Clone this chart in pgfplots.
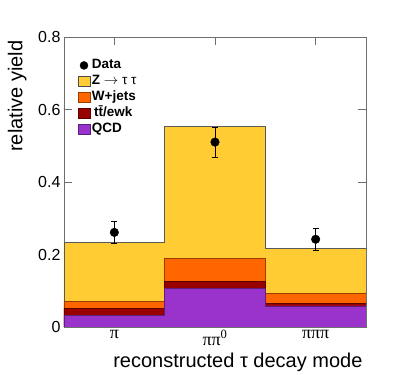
\documentclass[border=0pt]{standalone}
\usepackage{fontspec}
\setmainfont{Liberation Sans}
\newfontfamily\symfont{Liberation Serif}
\usepackage{pgfplots}
\pgfplotsset{compat=1.18}

\definecolor{zyel}{RGB}{255,204,51}
\definecolor{wora}{RGB}{255,102,0}
\definecolor{ttred}{RGB}{153,0,0}
\definecolor{qcdpur}{RGB}{153,51,204}
\definecolor{axgray}{RGB}{110,110,110}

\pgfplotsset{boxleg/.style={legend image code/.code={\draw[##1] (0pt,-5pt) rectangle (12pt,5pt);}}}

\begin{document}
\begin{tikzpicture}
\begin{axis}[
    name=ax,
    scale only axis,
    width=302pt, height=290pt,
    xmin=0.5, xmax=3.5, ymin=0, ymax=0.8,
    xtick={1,2,3},
    xticklabels={π, ππ\textsuperscript{0}, πππ},
    xticklabel style={font=\symfont\fontsize{18}{20}\selectfont},
    ytick={0,0.2,0.4,0.6,0.8},
    yticklabel style={font=\fontsize{16}{19}\selectfont},
    /pgf/number format/assume math mode=true,
    axis line style={axgray, line width=0.9pt},
    tick style={axgray, line width=0.9pt},
    major tick length=8pt,
    xlabel={reconstructed τ decay mode},
    ylabel={relative yield},
    label style={font=\fontsize{20}{24}\selectfont},
    xlabel style={at={(axis description cs:1,-0.138)}, anchor=base east},
    ylabel style={at={(axis description cs:-0.155,1)}, anchor=east},
    legend style={draw=none, fill=none, at={(axis description cs:0.045,0.93)}, anchor=north west,
        font=\bfseries\fontsize{13.5}{16}\selectfont, inner sep=0pt,
        nodes={text height=9.5pt, text depth=3pt, inner sep=1.7pt}},
    legend cell align=left,
]
\addlegendimage{legend image code/.code={\fill[black] (6pt,0pt) circle (4pt);}}
\addlegendentry{Data}
\addlegendimage{boxleg, fill=zyel, draw=black!70}
\addlegendentry{Z {\mdseries$\rightarrow$ τ τ}}
\addlegendimage{boxleg, fill=wora, draw=wora!60!black}
\addlegendentry{W+jets}
\addlegendimage{boxleg, fill=ttred, draw=ttred!60!black}
\addlegendentry{\,t\={t}/ewk}
\addlegendimage{boxleg, fill=qcdpur, draw=qcdpur!60!black}
\addlegendentry{QCD}

% stacked tops, drawn from the total down
\addplot[const plot, fill=zyel, draw=black!65, line width=0.8pt, forget plot]
    coordinates {(0.5,0.234) (1.5,0.553) (2.5,0.217) (3.5,0.217)} \closedcycle;
\addplot[const plot, fill=wora, draw=wora!60!black, line width=0.6pt, forget plot]
    coordinates {(0.5,0.071) (1.5,0.190) (2.5,0.093) (3.5,0.093)} \closedcycle;
\addplot[const plot, fill=ttred, draw=ttred!60!black, line width=0.6pt, forget plot]
    coordinates {(0.5,0.052) (1.5,0.125) (2.5,0.065) (3.5,0.065)} \closedcycle;
\addplot[const plot, fill=qcdpur, draw=qcdpur!60!black, line width=0.6pt, forget plot]
    coordinates {(0.5,0.031) (1.5,0.107) (2.5,0.058) (3.5,0.058)} \closedcycle;

% data
\addplot[only marks, mark=*, mark size=4.3pt, black, forget plot,
    error bars/.cd, y dir=both, y explicit,
    error bar style={line width=0.8pt},
    error mark options={rotate=90, mark size=3pt, line width=0.8pt}]
    coordinates {(1,0.261) +- (0,0.031) (2,0.510) +- (0,0.041) (3,0.242) +- (0,0.031)};

\node[anchor=base west, font=\bfseries\fontsize{15}{18}\selectfont]
    at (rel axis cs:0.013,1) [yshift=10pt] {CMS,$\sqrt{\mbox{\bfseries s}}$ = 7 TeV, 36 pb\textsuperscript{-1}};
\end{axis}
\path ([shift={(-64pt,-48pt)}]ax.south west) rectangle ([shift={(33pt,37pt)}]ax.north east);
\end{tikzpicture}
\end{document}
